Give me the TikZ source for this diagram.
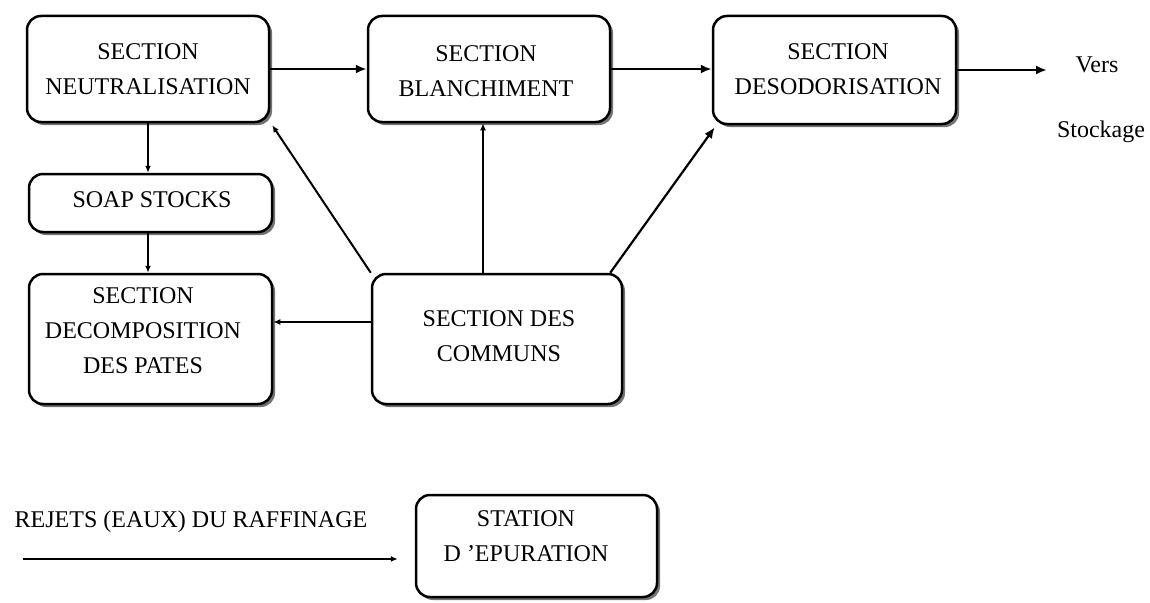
\documentclass[tikz,border=0pt]{standalone}
\usepackage{fontspec}
\setmainfont{Liberation Serif}
\usetikzlibrary{shadows,arrows.meta}
\begin{document}
\begin{tikzpicture}[x=1pt,y=-1pt,
  box/.style={draw=black, line width=2.5pt, rounded corners=14pt, fill=white, inner sep=0pt,
    drop shadow={shadow xshift=3pt, shadow yshift=-3pt, fill=black, opacity=0.55}},
  lbl/.style={align=center, font=\fontsize{24}{35}\selectfont, inner sep=0pt},
  link/.style={line width=2.2pt, -{Latex[length=11pt,width=9pt]}},
  smalllink/.style={line width=2pt, -{Latex[length=7pt,width=6pt]}}]
\useasboundingbox (0,0) rectangle (1150,602);

% process blocks
\node[box, minimum width=242pt, minimum height=106pt] (neutral) at (148,69) {};
\node[box, minimum width=243pt, minimum height=58pt]  (soap)    at (150.5,203) {};
\node[box, minimum width=242pt, minimum height=106pt] (blanch)  at (489,69) {};
\node[box, minimum width=243pt, minimum height=108pt] (deso)    at (834.5,70) {};
\node[box, minimum width=243pt, minimum height=130pt] (decomp)  at (150.5,339) {};
\node[box, minimum width=250pt, minimum height=130pt] (communs) at (497,339) {};
\node[box, minimum width=241pt, minimum height=102pt] (station) at (536.5,546) {};

% block titles
\node[lbl] (neutralT) at (148,69.5) {SECTION\\NEUTRALISATION};
\node[lbl] (soapT)    at (152,200) {SOAP STOCKS};
\node[lbl] (blanchT)  at (486,71.5) {SECTION\\BLANCHIMENT};
\node[lbl] (desoT)    at (838,69) {SECTION\\DESODORISATION};
\node[lbl] (decompT)  at (143,331) {SECTION\\DECOMPOSITION\\DES PATES};
\node[lbl] (communsT) at (499,336) {SECTION DES\\COMMUNS};
\node[lbl] (stationT) at (526,536) {STATION\\D 'EPURATION};

% free labels
\node[lbl, anchor=base] (vers)     at (1097,73)  {Vers};
\node[lbl, anchor=base] (stockage) at (1101,137) {Stockage};
\node[lbl, anchor=base] (rejets)   at (191,527)  {REJETS (EAUX) DU RAFFINAGE};

\coordinate (versTip)    at (1047,70);
\coordinate (rejStart)   at (23,559);

% main line
\draw[link] (neutral.east) -- (blanch.west);
\draw[link] (blanch.east) -- (blanch.east -| deso.west);
\draw[link] (deso.east) -- (versTip);

% soap stock branch
\draw[smalllink] (neutral.south) -- (neutral.south |- soap.north);
\draw[smalllink] (neutral.south |- soap.south) -- (neutral.south |- decomp.north);

% utilities feeding the sections
\draw[smalllink] ([yshift=17pt]communs.west) -- ([yshift=17pt]communs.west -| decomp.east);
\draw[smalllink] (communs.north west) -- ([xshift=2pt,yshift=-2pt]neutral.south east);
\draw[smalllink] ([xshift=-14pt]communs.north) -- ([xshift=-14pt]communs.north |- blanch.south);
\draw[link] ([xshift=-13pt]communs.north east) -- ([xshift=3pt,yshift=-2pt]deso.south west);

% effluents
\draw[smalllink] (rejStart) -- ([xshift=-17pt,yshift=-13pt]station.west);
\end{tikzpicture}
\end{document}
